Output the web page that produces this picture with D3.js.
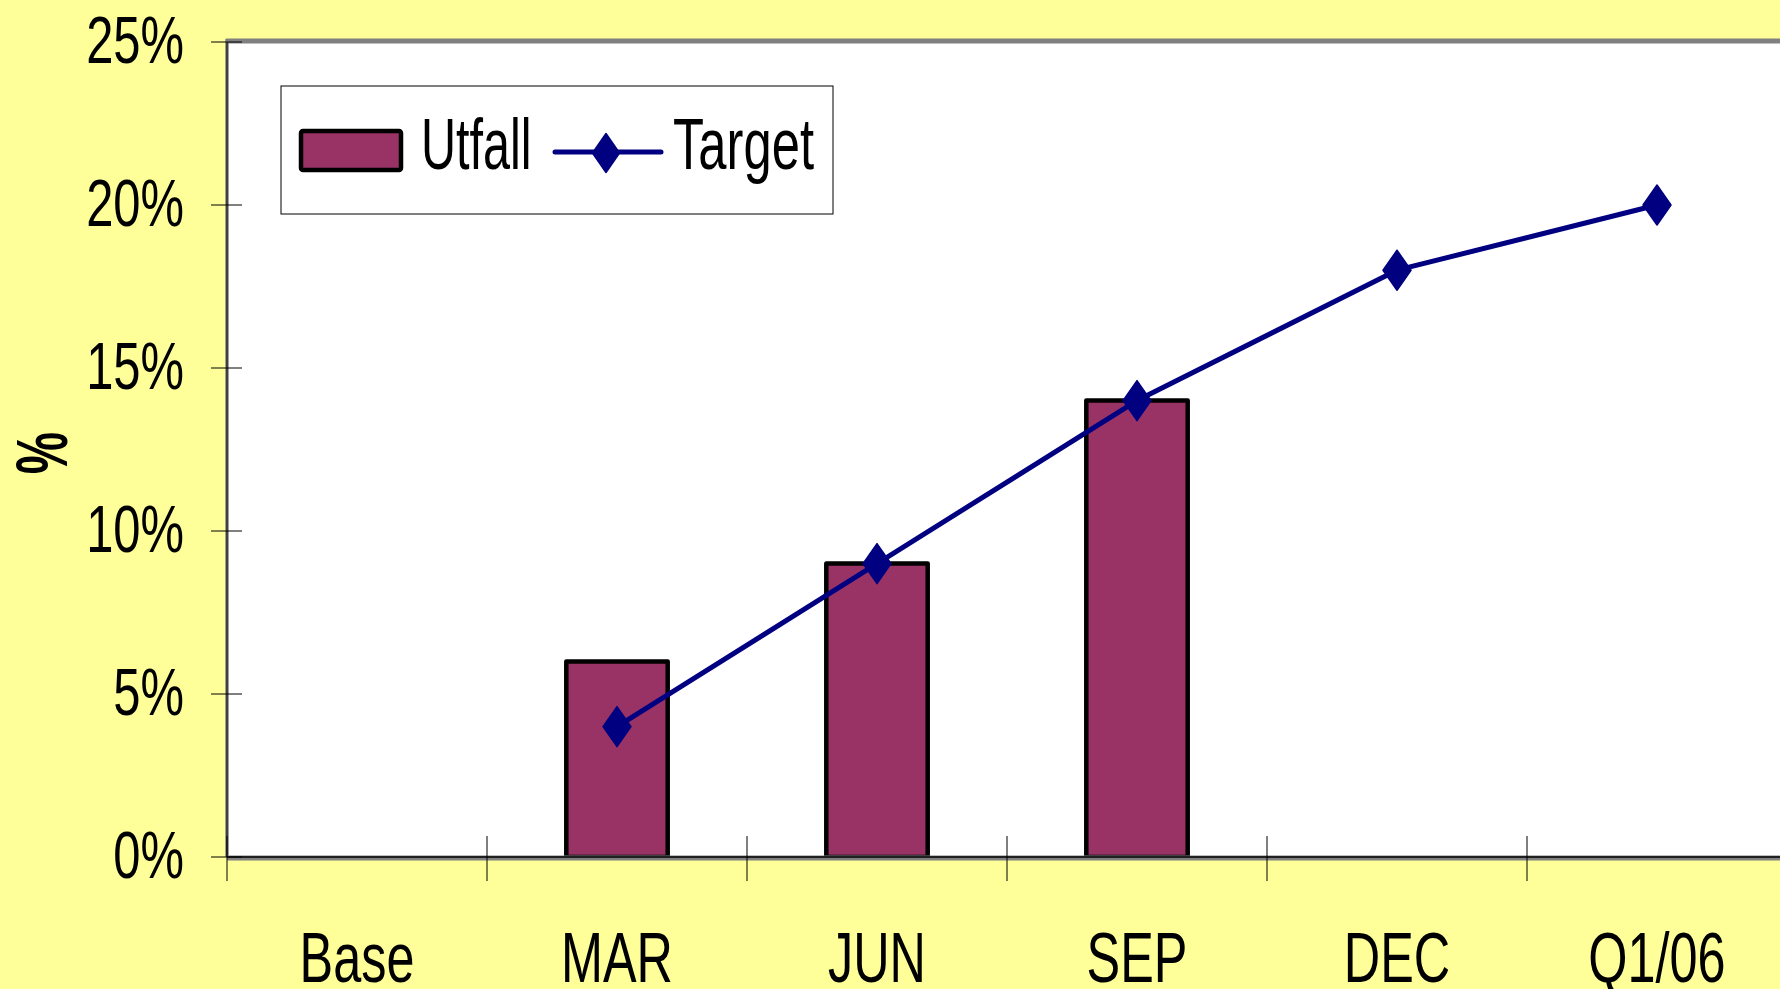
<!DOCTYPE html>
<html>
<head>
<meta charset="utf-8">
<script src="https://cdn.jsdelivr.net/npm/d3@7"></script>
<style>
  html, body { margin: 0; padding: 0; background: #FFFF99; }
  svg { display: block; }
  text { font-family: "Liberation Sans", Arial, Helvetica, sans-serif; fill: #000; }
</style>
</head>
<body>
<svg id="chart" width="1780" height="989"></svg>
<script>
// ---- data ----
const categories = ["Base", "MAR", "JUN", "SEP", "DEC", "Q1/06"];
const utfallValues = [null, 0.06, 0.09, 0.14, null, null];
const targetValues = [null, 0.04, 0.09, 0.14, 0.18, 0.20];
const yTickValues = [0, 0.05, 0.10, 0.15, 0.20, 0.25];
const yTickLabels = ["0%", "5%", "10%", "15%", "20%", "25%"];
const seriesNames = ["Utfall", "Target"];
const yAxisTitle = "%";

// ---- layout ----
const W = 1780, H = 989;
const plot = { left: 227, top: 42, right: 1787, bottom: 857 };
const barColor = "#993366", lineColor = "#000080";

const svg = d3.select("#chart");
svg.append("rect").attr("width", W).attr("height", H).attr("fill", "#FFFF99");

const x = d3.scaleBand().domain(categories).range([plot.left, plot.right]).paddingInner(0).paddingOuter(0);
const y = d3.scaleLinear().domain([0, 0.25]).range([plot.bottom, plot.top]);

// plot area
svg.append("rect")
  .attr("x", plot.left).attr("y", plot.top)
  .attr("width", plot.right - plot.left).attr("height", plot.bottom - plot.top)
  .attr("fill", "#fff");

// borders (gray shadowed frame)
svg.append("line").attr("x1", plot.left - 1).attr("x2", W).attr("y1", plot.top - 1).attr("y2", plot.top - 1)
  .attr("stroke", "#808080").attr("stroke-width", 5);
svg.append("line").attr("x1", plot.left).attr("x2", plot.left).attr("y1", plot.top - 3).attr("y2", plot.bottom)
  .attr("stroke", "#808080").attr("stroke-width", 3.5);
svg.append("line").attr("x1", plot.left).attr("x2", plot.left).attr("y1", plot.top).attr("y2", plot.bottom)
  .attr("stroke", "#000").attr("stroke-width", 1);

// bars
const bw = x.bandwidth() * 0.39;
const barData = categories.map((c, i) => ({ c, v: utfallValues[i] })).filter(d => d.v != null);
svg.append("g").selectAll("rect").data(barData).join("rect")
  .attr("x", d => x(d.c) + x.bandwidth() / 2 - bw / 2)
  .attr("y", d => y(d.v))
  .attr("width", bw)
  .attr("height", d => y(0) - y(d.v))
  .attr("fill", barColor)
  .attr("stroke", "#000")
  .attr("stroke-width", 4.5)
  .attr("stroke-linejoin", "round");

// x axis line
svg.append("line").attr("x1", plot.left).attr("x2", W).attr("y1", plot.bottom + 1).attr("y2", plot.bottom + 1)
  .attr("stroke", "#808080").attr("stroke-width", 5);
svg.append("line").attr("x1", plot.left).attr("x2", W).attr("y1", plot.bottom).attr("y2", plot.bottom)
  .attr("stroke", "#000").attr("stroke-width", 1.5);

// category ticks at band boundaries
const boundaries = categories.map(c => x(c));
svg.append("g").selectAll("line").data(boundaries).join("line")
  .attr("x1", d => d).attr("x2", d => d)
  .attr("y1", plot.bottom - 21).attr("y2", plot.bottom + 24)
  .attr("stroke", "#000").attr("stroke-width", 1);

// y ticks
svg.append("g").selectAll("line").data(yTickValues).join("line")
  .attr("x1", plot.left - 16).attr("x2", plot.left + 15)
  .attr("y1", d => y(d)).attr("y2", d => y(d))
  .attr("stroke", "#000").attr("stroke-width", 1);

// y tick labels
svg.append("g").selectAll("text").data(yTickValues).join("text")
  .attr("transform", d => `translate(184,${y(d) + 21}) scale(0.73,1)`)
  .attr("text-anchor", "end")
  .attr("font-size", 67)
  .text((d, i) => yTickLabels[i]);

// category labels
svg.append("g").selectAll("text").data(categories).join("text")
  .attr("transform", d => `translate(${x(d) + x.bandwidth() / 2},982) scale(0.72,1)`)
  .attr("text-anchor", "middle")
  .attr("font-size", 70)
  .text(d => d);

// y axis title
svg.append("text")
  .attr("transform", "translate(67,453) rotate(-90) scale(0.66,1)")
  .attr("text-anchor", "middle")
  .attr("font-size", 72)
  .attr("font-weight", "bold")
  .text(yAxisTitle);

// target line
const diamond = (cx, cy, w, h) => `M${cx},${cy - h / 2}L${cx + w / 2},${cy}L${cx},${cy + h / 2}L${cx - w / 2},${cy}Z`;
const lineData = categories.map((c, i) => ({ c, v: targetValues[i] })).filter(d => d.v != null);
const line = d3.line().x(d => x(d.c) + x.bandwidth() / 2).y(d => y(d.v));
svg.append("path").datum(lineData)
  .attr("d", line)
  .attr("fill", "none")
  .attr("stroke", lineColor)
  .attr("stroke-width", 5)
  .attr("stroke-linejoin", "round");
svg.append("g").selectAll("path").data(lineData).join("path")
  .attr("d", d => diamond(x(d.c) + x.bandwidth() / 2, y(d.v), 28, 40))
  .attr("fill", lineColor)
  .attr("stroke", lineColor)
  .attr("stroke-width", 1.5)
  .attr("stroke-linejoin", "round");

// legend
const lg = svg.append("g");
lg.append("rect").attr("x", 281).attr("y", 86).attr("width", 552).attr("height", 128)
  .attr("fill", "#fff").attr("stroke", "#000").attr("stroke-width", 1);
lg.append("rect").attr("x", 301).attr("y", 131).attr("width", 100).attr("height", 39)
  .attr("rx", 2)
  .attr("fill", barColor).attr("stroke", "#000").attr("stroke-width", 4.5);
lg.append("text").attr("transform", "translate(421,169) scale(0.665,1)")
  .attr("font-size", 73).text(seriesNames[0]);
lg.append("line").attr("x1", 555).attr("x2", 661).attr("y1", 152).attr("y2", 152)
  .attr("stroke", lineColor).attr("stroke-width", 5).attr("stroke-linecap", "round");
lg.append("path").attr("d", diamond(606, 153, 27, 39))
  .attr("fill", lineColor).attr("stroke", lineColor).attr("stroke-width", 1.5).attr("stroke-linejoin", "round");
lg.append("text").attr("transform", "translate(673,169) scale(0.695,1)")
  .attr("font-size", 73).text(seriesNames[1]);
</script>
</body>
</html>
